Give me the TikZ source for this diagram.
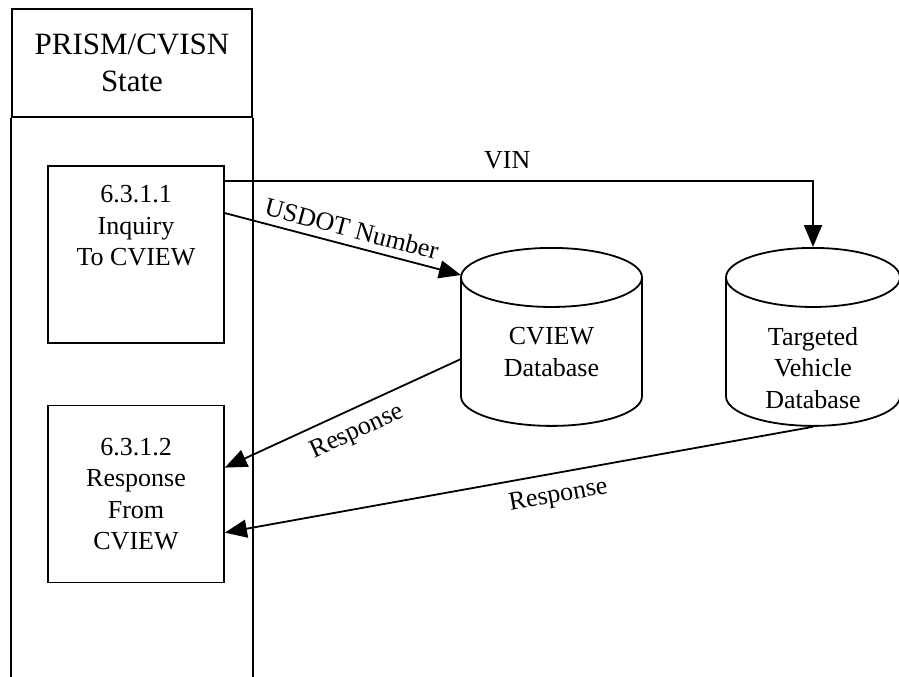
\documentclass[tikz,border=0pt]{standalone}
\usepackage{fontspec}
\setmainfont{Liberation Serif}
\usetikzlibrary{arrows.meta, positioning, shapes.geometric, calc}

\begin{document}
\begin{tikzpicture}[
  x=1bp, y=-1bp,
  line width=1.8bp,
  font=\fontsize{26bp}{31.5bp}\selectfont,
  box/.style={draw, align=center, minimum width=176bp, minimum height=177bp, inner sep=0pt},
  db/.style={draw, cylinder, shape border rotate=90, aspect=0.62, align=center, minimum width=181bp, minimum height=178bp, inner sep=0pt},
  arrow/.style={-{Triangle[length=22bp, width=18bp]}},
  lbl/.style={sloped, inner sep=7bp}
]
\useasboundingbox (0,0) rectangle (899,677);

% SWIMLANE
\node[draw, minimum width=240bp, minimum height=108bp, align=center, font=\fontsize{31bp}{37bp}\selectfont] (lane) at (132,63) {PRISM/CVISN\\State};
\coordinate (laneend) at (0,677);
\draw (lane.south west) -- (lane.south west |- laneend);
\draw (lane.south east) -- (lane.south east |- laneend);

% PROCESSES
\node[box, text depth=58bp] (inq) at (136,254.5) {6.3.1.1\\Inquiry\\To CVIEW};
\node[box] (resp) at (136,494) {6.3.1.2\\Response\\From\\CVIEW};

% DATA STORES
\node[db, anchor=top] (cview) at (551.5,247) {CVIEW\\Database};
\node[db, anchor=top, minimum width=174bp, text height=113bp, inner ysep=-16bp] (tvd) at (813,247) {Targeted\\Vehicle\\Database};

% FLOWS
\draw[arrow] ([yshift=-16bp]inq.north east) -| node[pos=0.24, above, inner sep=11bp] {VIN} (tvd.top);
\draw[arrow] ([yshift=-48bp]inq.north east) -- node[lbl, above, pos=0.52] {USDOT Number} ($(cview.top)+(-90.5,28)$);
\draw[arrow] ($(cview.top)+(-90.5,112)$) -- node[lbl, below, pos=0.48, inner sep=11bp] {Response} ([yshift=-63bp]resp.north east);
\draw[arrow] (tvd.bottom) -- node[lbl, below, pos=0.44, inner sep=11bp] {Response} ([yshift=-128bp]resp.north east);

\end{tikzpicture}
\end{document}
